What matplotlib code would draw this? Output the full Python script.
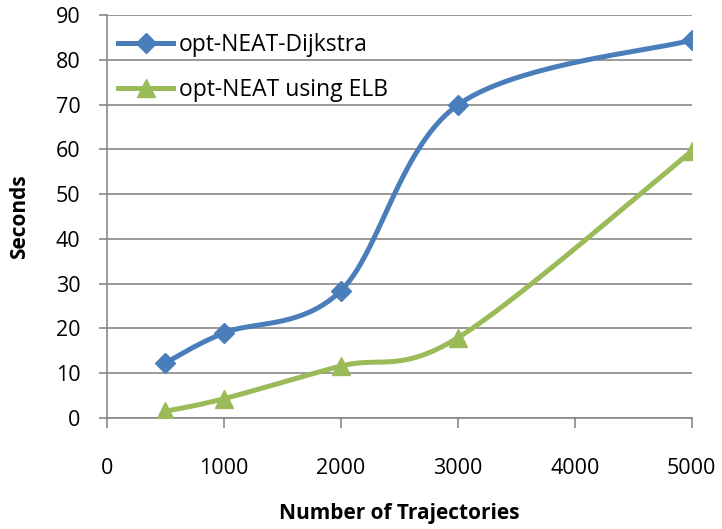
import numpy as np
import matplotlib.pyplot as plt
from matplotlib.lines import Line2D

trajectories = [500, 1000, 2000, 3000, 5000]
dijkstra_secs = [12.3, 19.0, 28.4, 69.9, 84.4]
elb_secs = [1.5, 4.3, 11.6, 17.9, 59.6]
series_names = ["opt-NEAT-Dijkstra", "opt-NEAT using ELB"]

blue = "#4A7EBB"
green = "#9BBB59"

plt.rcParams['font.family'] = ['Open Sans', 'DejaVu Sans']


def smooth(xs, ys, n=40):
    # cubic bezier through the points, control points from neighbours
    p = np.column_stack([xs, ys]).astype(float)
    pts = np.vstack([p[0], p, p[-1]])
    out = []
    t = np.linspace(0, 1, n)[:, None]
    for i in range(1, len(pts) - 2):
        p0, p1, p2, p3 = pts[i - 1], pts[i], pts[i + 1], pts[i + 2]
        c1 = p1 + (p2 - p0) / 6.0
        c2 = p2 - (p3 - p1) / 6.0
        seg = ((1 - t) ** 3) * p1 + 3 * ((1 - t) ** 2) * t * c1 \
            + 3 * (1 - t) * t ** 2 * c2 + t ** 3 * p2
        out.append(seg if i == 1 else seg[1:])
    seg = np.vstack(out)
    return seg[:, 0], seg[:, 1]


fig = plt.figure(figsize=(7.22, 5.29), dpi=100)
ax = fig.add_axes([0.148, 0.2098, 0.810, 0.7618])

for ys, col, mk, ms in [(dijkstra_secs, blue, 'D', 10.5), (elb_secs, green, '^', 13.5)]:
    sx, sy = smooth(trajectories, ys)
    ax.plot(sx, sy, color=col, lw=3.6, solid_capstyle='round', zorder=3)
    ax.plot(trajectories, ys, ls='none', marker=mk, ms=ms, color=col, zorder=4)

ax.set_xlim(0, 5000)
ax.set_ylim(0, 90)
ax.set_xticks(range(0, 5001, 1000))
ax.set_yticks(range(0, 91, 10))
ax.grid(axis='y', color='#878787', lw=1.2)
ax.set_axisbelow(True)
for s in ['top', 'right']:
    ax.spines[s].set_visible(False)
for s in ['left', 'bottom']:
    ax.spines[s].set_color('#878787')
    ax.spines[s].set_linewidth(1.2)
ax.tick_params(axis='x', direction='out', length=7, width=1.2, color='#878787',
               pad=22, labelsize=15.5)
ax.tick_params(axis='y', direction='out', length=6, width=1.2, color='#878787',
               pad=13, labelsize=15.5)

ax.set_xlabel("Number of Trajectories", fontsize=15, fontweight='bold')
ax.set_ylabel("Seconds", fontsize=15, fontweight='bold')
ax.xaxis.set_label_coords(0.5, -0.211)
ax.yaxis.set_label_coords(-0.132, 0.5)

handles = [Line2D([], [], color=blue, lw=3.6, marker='D', ms=10.5),
           Line2D([], [], color=green, lw=3.6, marker='^', ms=13.5)]
ax.legend(handles, series_names, loc='upper left', bbox_to_anchor=(0.0, 0.985),
          frameon=False, fontsize=16.5, handlelength=2.4, handletextpad=0.25,
          labelspacing=0.95, borderaxespad=0.3, borderpad=0.2)

fig.savefig("out.png", dpi=100, facecolor='white')
